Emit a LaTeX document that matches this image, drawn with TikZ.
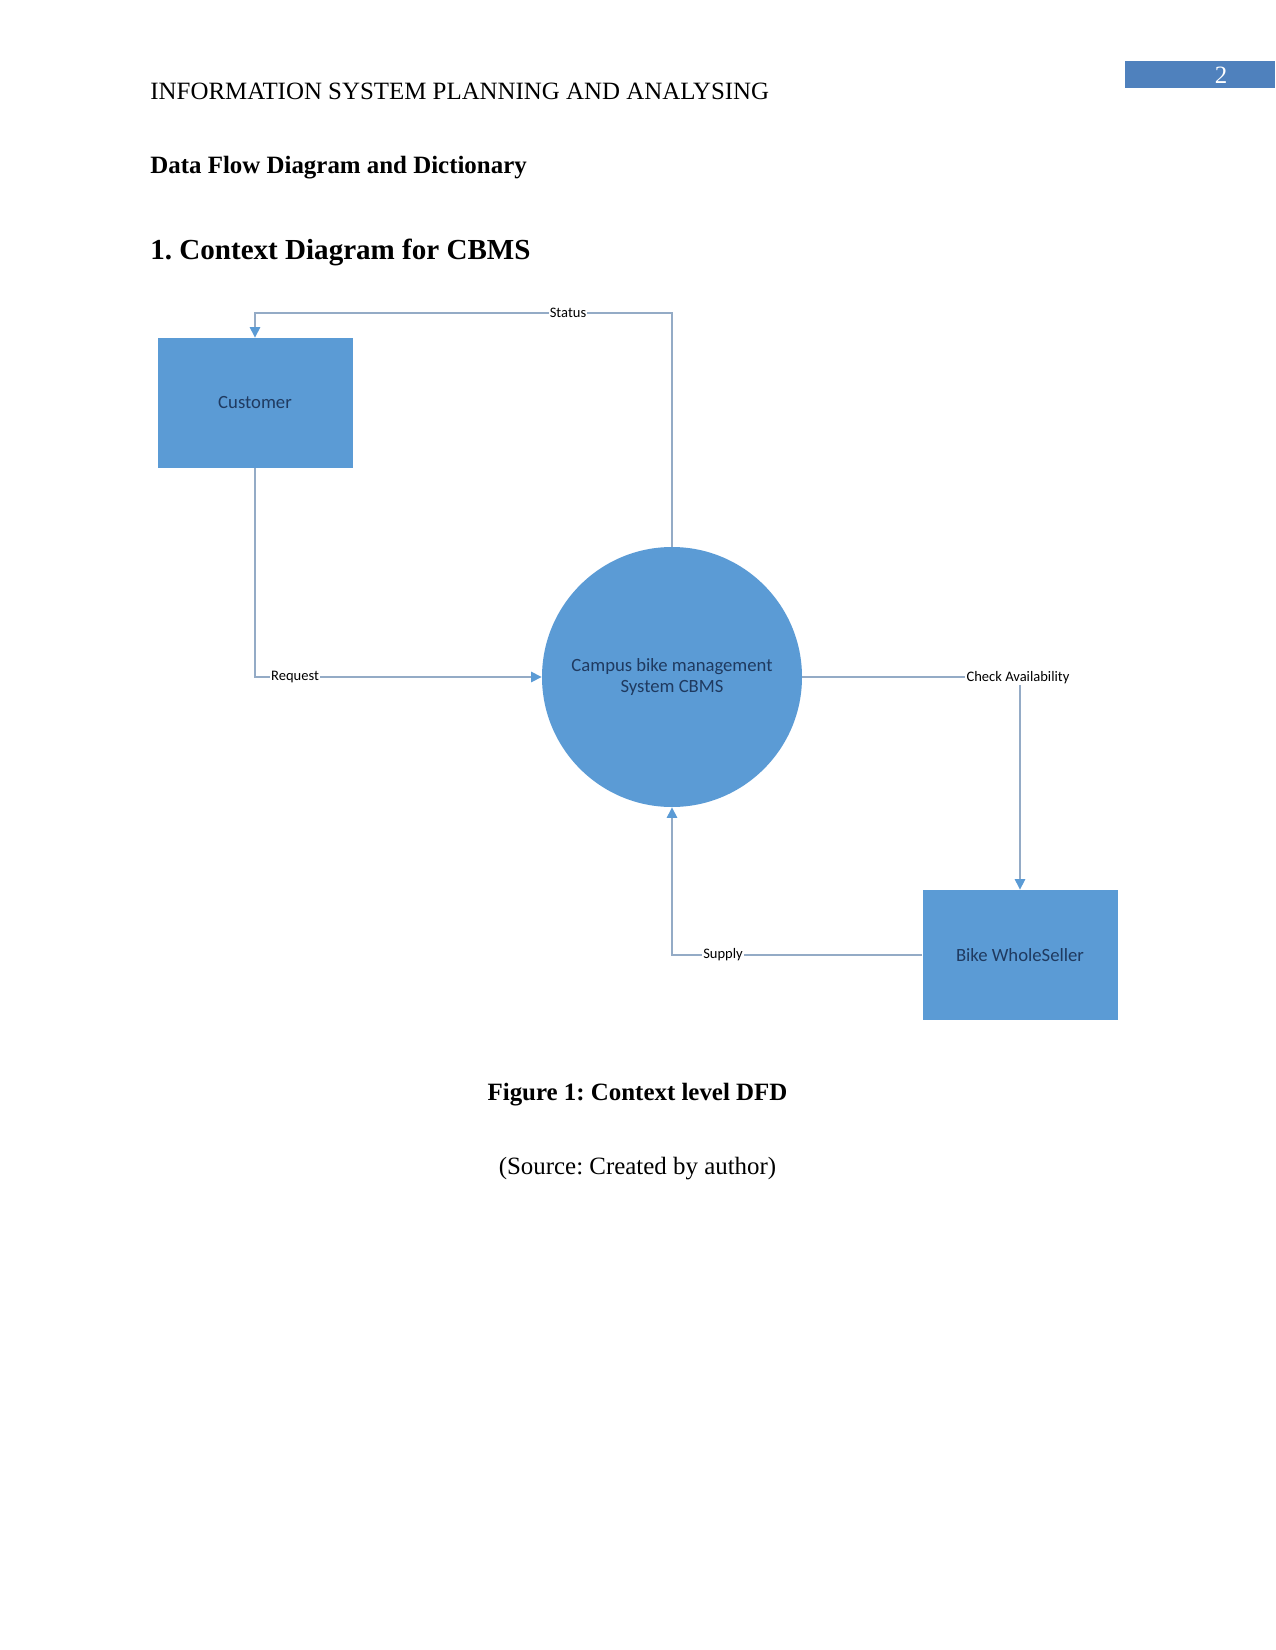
\documentclass[tikz,border=0pt]{standalone}
\usepackage{fontspec}
\setmainfont{Liberation Serif}
\newfontfamily\dfdfont{Carlito}
\usetikzlibrary{arrows.meta,positioning}
\frenchspacing
\definecolor{boxblue}{HTML}{5B9BD5}
\definecolor{pageblue}{HTML}{4F81BD}
\definecolor{navy}{HTML}{1F3A60}
\definecolor{flowline}{HTML}{94ABC6}
\tikzset{
  entity/.style={draw=none,fill=boxblue,minimum width=195*0.4818pt,minimum height=130*0.4818pt,inner sep=0pt,font=\dfdfont\fontsize{9}{10}\selectfont,text=navy},
  proc/.style={circle,fill=boxblue,minimum size=260*0.4818pt,inner sep=0pt,align=center,font=\dfdfont\fontsize{9}{10.5}\selectfont,text=navy},
  flow/.style={draw=flowline,line width=0.6pt},
  flowarrow/.style={flow,-{Triangle[width=5pt,length=5pt,color=boxblue,fill=boxblue]}},
  lab/.style={fill=white,inner sep=0.6pt,font=\dfdfont\fontsize{7}{8}\selectfont,text=black},
  pagetext/.style={anchor=base west,inner sep=0pt}
}
\begin{document}
\begin{tikzpicture}[x=0.4818pt,y=-0.4818pt]
\useasboundingbox (0,0) rectangle (1275,1650);
\fill[white] (0,0) rectangle (1275,1650);
% page header
\fill[pageblue] (1125,61) rectangle (1275,88);
\node[inner sep=0pt,text=white,font=\fontsize{12}{14}\selectfont] (pnum) at (1221,75) {2};
\node[pagetext,font=\fontsize{12}{14}\selectfont] (head) at (150,100) {INFORMATION SYSTEM PLANNING AND ANALYSING};
\node[pagetext,font=\bfseries\fontsize{12}{14}\selectfont] (sec) at (150,174) {Data Flow Diagram and Dictionary};
\node[pagetext,font=\bfseries\fontsize{14}{16}\selectfont] (subsec) at (150,260) {1. Context Diagram for CBMS};
% diagram nodes
\node[entity] (cust) at (255,403) {Customer};
\node[proc] (circ) at (672,677) {Campus bike management\\System CBMS};
\node[entity] (bike) at (1020,955) {Bike WholeSeller};
% flows
\coordinate (st1) at (672,313);
\coordinate (st2) at (255,313);
\draw[flowarrow] (circ.north) -- (st1) -- (st2) -- (cust.north);
\draw[flowarrow] (cust.south) |- (circ.west);
\draw[flowarrow] (circ.east) -| (bike.north);
\draw[flowarrow] (bike.west) -| (circ.south);
% flow labels
\node[lab] (lstatus) at (568,313) {Status};
\node[lab] (lreq) at (295,677) {Request};
\node[lab] (lcheck) at (1018,678) {Check Availability};
\node[lab] (lsup) at (723,955) {Supply};
% caption
\node[inner sep=0pt,anchor=base,font=\bfseries\fontsize{12}{14}\selectfont] (cap) at (637.5,1100) {Figure 1: Context level DFD};
\node[inner sep=0pt,anchor=base,font=\fontsize{12}{14}\selectfont] (src) at (637.5,1174) {(Source: Created by author)};
\end{tikzpicture}
\end{document}
